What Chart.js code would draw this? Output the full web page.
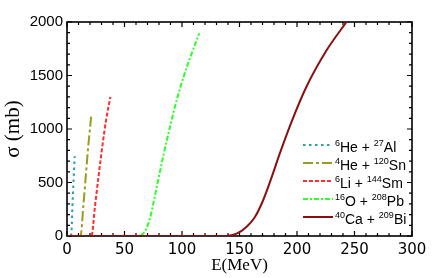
<!DOCTYPE html>
<html>
<head>
<meta charset="utf-8">
<script src="https://cdn.jsdelivr.net/npm/chart.js@4/dist/chart.umd.min.js"></script>
<style>
html, body { margin: 0; padding: 0; background: #fff; }
#wrap { width: 437px; height: 278px; }
</style>
</head>
<body>
<div id="wrap"><canvas id="sigmaChart"></canvas></div>
<script>
// fusion cross sections: E in MeV, sigma in mb
const heAlE = [3.5, 4.1, 4.7, 5.6, 6.7];
const heAlSigma = [0, 75, 274, 495, 745];

const heSnE = [8, 11, 11.9, 14.2, 16.5, 18.5, 21];
const heSnSigma = [0, 0, 5, 280, 580, 840, 1115];

const liSmE = [16, 20, 21.4, 24.3, 27.8, 31, 34, 37.7];
const liSmSigma = [0, 0, 5, 274, 590, 860, 1085, 1300];

const oPbE = [45, 60, 63, 66, 69, 72, 75, 78, 84, 90, 95.4, 101, 108.4, 115];
const oPbSigma = [0, 0, 3, 20, 70, 160, 300, 455, 760, 1040, 1270, 1475, 1705, 1894];

const caBiE = [0, 130, 140, 148, 156, 163, 170, 177, 185, 195, 208, 226, 243];
const caBiSigma = [0, 0, 3, 25, 85, 170, 320, 520, 770, 1060, 1390, 1740, 2000];

// legend text, split as [superscript, text, superscript, text]
const legendRows = [
    ['6', 'He + ', '27', 'Al'],
    ['4', 'He + ', '120', 'Sn'],
    ['6', 'Li + ', '144', 'Sm'],
    ['16', 'O + ', '208', 'Pb'],
    ['40', 'Ca + ', '209', 'Bi']
];

const xMin = 0, xMax = 300, xMajor = 50, xMinor = 10;
const yMin = 0, yMax = 2000, yMajor = 500, yMinor = 100;

function toPoints(xs, ys) {
    return xs.map(function(e, i) { return {x: e, y: ys[i]}; });
}

function makeSet(xs, ys, color, dash, width, order) {
    return {
        data: toPoints(xs, ys),
        borderColor: color,
        borderDash: dash,
        borderWidth: width,
        pointRadius: 0,
        fill: false,
        cubicInterpolationMode: 'monotone',
        order: order
    };
}

//frame with inward ticks on all four sides, drawn under the curves
const frameTicks = {
    id: 'frameTicks',
    beforeDatasetsDraw(chart) {
        const ctx = chart.ctx;
        const a = chart.chartArea;
        const x = chart.scales.x, y = chart.scales.y;
        ctx.save();
        ctx.strokeStyle = '#000';
        ctx.lineWidth = 1.2;
        ctx.beginPath();
        for (let v = xMin; v <= xMax; v += xMinor) {
            const px = x.getPixelForValue(v);
            const len = v % xMajor === 0 ? 5 : 3;
            ctx.moveTo(px, a.bottom); ctx.lineTo(px, a.bottom - len);
            ctx.moveTo(px, a.top); ctx.lineTo(px, a.top + len);
        }
        for (let v = yMin; v <= yMax; v += yMinor) {
            const py = y.getPixelForValue(v);
            const len = v % yMajor === 0 ? 5 : 3;
            ctx.moveTo(a.left, py); ctx.lineTo(a.left + len, py);
            ctx.moveTo(a.right, py); ctx.lineTo(a.right - len, py);
        }
        ctx.stroke();
        ctx.lineWidth = 1.6;
        ctx.strokeRect(a.left, a.top, a.right - a.left, a.bottom - a.top);
        ctx.restore();
    }
};

//legend with superscript mass numbers
const supLegend = {
    id: 'supLegend',
    afterDraw(chart) {
        const ctx = chart.ctx;
        const a = chart.chartArea;
        const x0 = a.right - 109;
        const y0 = a.bottom - 91;
        ctx.save();
        legendRows.forEach(function(parts, i) {
            const ds = chart.data.datasets[i];
            const yy = y0 + i * 18;
            ctx.strokeStyle = ds.borderColor;
            ctx.lineWidth = ds.borderWidth;
            ctx.setLineDash(ds.borderDash);
            ctx.beginPath();
            ctx.moveTo(x0, yy);
            ctx.lineTo(x0 + 30, yy);
            ctx.stroke();
            ctx.setLineDash([]);
            ctx.fillStyle = '#000';
            ctx.textBaseline = 'alphabetic';
            let tx = x0 + 32;
            parts.forEach(function(p, j) {
                if (j % 2 === 0) {
                    ctx.font = '9px "Liberation Sans"';
                    ctx.fillText(p, tx, yy + 1);
                } else {
                    ctx.font = '14px "Liberation Sans"';
                    ctx.fillText(p, tx, yy + 6.5);
                }
                tx += ctx.measureText(p).width;
            });
        });
        ctx.restore();
    }
};

const ctx = document.getElementById('sigmaChart');
const sigmaChart = new Chart(ctx, {
    type: 'line',
    data: {
        datasets: [
            makeSet(heAlE, heAlSigma, '#2a9fa3', [2.5, 3.5], 2, 1),
            makeSet(heSnE, heSnSigma, '#9b9b1c', [10, 3, 3, 3], 2, 2),
            makeSet(liSmE, liSmSigma, '#ff2d2d', [4, 2], 2, 3),
            makeSet(oPbE, oPbSigma, '#2dff2d', [5, 2, 2, 2], 2, 4),
            makeSet(caBiE, caBiSigma, '#8c0f0f', [], 2, 0)
        ]
    },
    options: {
        responsive: true,
        maintainAspectRatio: false,
        animation: false,
        layout: { padding: { top: 22, right: 25, left: 0, bottom: 0 } },
        plugins: { legend: { display: false }, tooltip: { enabled: false } },
        scales: {
            x: {
                type: 'linear',
                min: xMin,
                max: xMax,
                grid: { display: false, drawTicks: false },
                border: { display: false },
                ticks: {
                    stepSize: xMajor,
                    padding: 5,
                    color: '#000',
                    font: { family: 'DejaVu Sans', size: 15 },
                    maxRotation: 0,
                    callback: function(v) { return String(v); }
                },
                title: {
                    display: true,
                    text: 'E(MeV)',
                    color: '#000',
                    font: { family: 'Liberation Serif', size: 17 },
                    padding: { top: 0, bottom: 2 }
                },
                afterFit(scale) { scale.height = 42; }
            },
            y: {
                type: 'linear',
                min: yMin,
                max: yMax,
                grid: { display: false, drawTicks: false },
                border: { display: false },
                ticks: {
                    stepSize: yMajor,
                    padding: 4,
                    color: '#000',
                    font: { family: 'Liberation Sans', size: 15 },
                    callback: function(v) { return String(v); }
                },
                title: {
                    display: true,
                    text: 'σ (mb)',
                    color: '#000',
                    font: { family: 'Liberation Serif', size: 21 },
                    padding: { top: 1, bottom: 0 }
                },
                afterFit(scale) { scale.width = 67; }
            }
        }
    },
    plugins: [frameTicks, supLegend]
});
</script>
</body>
</html>
